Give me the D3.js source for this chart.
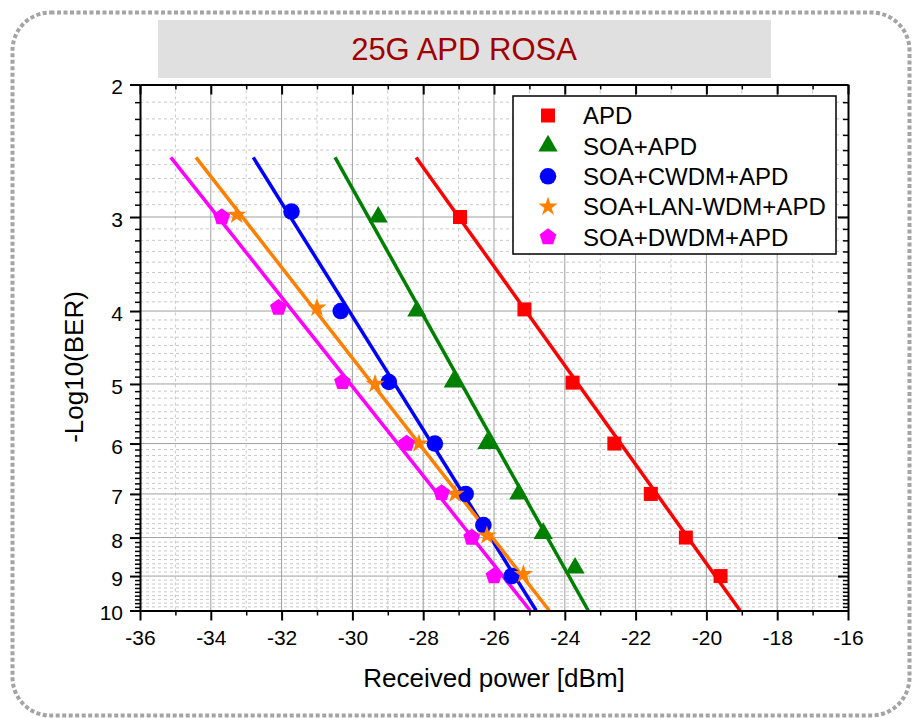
<!DOCTYPE html>
<html>
<head>
<meta charset="utf-8">
<script src="https://cdn.jsdelivr.net/npm/d3@7"></script>
<style>
  body { margin: 0; background: #fff; }
  text { font-family: "Liberation Sans", Arial, sans-serif; }
</style>
</head>
<body>
<script>
// Data
const seriesNames = ['APD', 'SOA+APD', 'SOA+CWDM+APD', 'SOA+LAN-WDM+APD', 'SOA+DWDM+APD'];
const seriesColors = ['#ff0000', '#008000', '#0000ff', '#ff8000', '#ff00ff'];
const seriesSymbols = ['square', 'triangle', 'circle', 'star', 'pentagon'];

const apdPower = [-26.96, -25.14, -23.78, -22.6, -21.57, -20.58, -19.6];
const apdBer = [3.0, 3.98, 4.98, 6.0, 7.0, 8.0, 9.0];
const soaPower = [-29.27, -28.18, -27.15, -26.2, -25.3, -24.61, -23.71];
const soaBer = [3.0, 4.0, 4.97, 6.0, 7.0, 7.9, 8.78];
const cwdmPower = [-31.72, -30.33, -28.97, -27.67, -26.8, -26.3, -25.5];
const cwdmBer = [2.95, 4.0, 4.97, 6.0, 7.0, 7.7, 9.0];
const lanPower = [-33.27, -31.0, -29.36, -28.12, -27.1, -26.2, -25.17];
const lanBer = [2.98, 3.96, 5.0, 6.0, 7.0, 7.95, 8.95];
const dwdmPower = [-33.69, -32.09, -30.28, -28.47, -27.48, -26.63, -26.0];
const dwdmBer = [3.0, 3.96, 4.97, 6.0, 6.98, 8.0, 9.0];

// Linear fits, power at the two ends of the fit range
const fitBer = [2.5, 10];
const apdFit = [-28.2, -19.05];
const soaFit = [-30.49, -23.34];
const cwdmFit = [-32.8, -24.81];
const lanFit = [-34.42, -24.44];
const dwdmFit = [-35.13, -24.98];

const powers = [apdPower, soaPower, cwdmPower, lanPower, dwdmPower];
const bers = [apdBer, soaBer, cwdmBer, lanBer, dwdmBer];
const fits = [apdFit, soaFit, cwdmFit, lanFit, dwdmFit];

const xTicks = d3.range(-36, -15, 2);
const xMinorTicks = d3.range(-35, -16, 2);
const yTicks = d3.range(2, 11);
const yMinorTicks = d3.range(2, 10).flatMap(n => d3.range(1, 9).map(k => n + k / 9));

// Dimensions
const width = 913;
const height = 718;
const plot = {left: 140, right: 848, top: 84.5, bottom: 610.5};

const svg = d3.select('body')
  .append('svg')
    .attr('width', width)
    .attr('height', height)

// Outer dotted frame
svg.append('rect')
  .attr('x', 12.5)
  .attr('y', 12.5)
  .attr('width', 897)
  .attr('height', 703)
  .attr('rx', 38)
  .attr('fill', 'none')
  .attr('stroke', '#a4a4a4')
  .attr('stroke-width', 4)
  .attr('stroke-dasharray', '4 2.5')

// Title
svg.append('rect')
  .attr('x', 158)
  .attr('y', 20)
  .attr('width', 613)
  .attr('height', 58)
  .attr('fill', '#e0e0e0')
svg.append('text')
  .attr('x', 464)
  .attr('y', 60)
  .attr('text-anchor', 'middle')
  .attr('font-size', 31)
  .attr('fill', '#a00000')
  .text('25G APD ROSA')

// Scales
const x = d3.scaleLinear().domain([-36, -16]).range([plot.left, plot.right]);
const y = d3.scaleLog().domain([2, 10]).range([plot.top, plot.bottom]);

// Grid
const grid = svg.append('g');
grid.selectAll('.vminor')
  .data(xMinorTicks)
  .join('line')
    .attr('x1', d => x(d)).attr('x2', d => x(d))
    .attr('y1', plot.top).attr('y2', plot.bottom)
    .attr('stroke', '#c8c8c8')
    .attr('stroke-dasharray', '3 3')
grid.selectAll('.hminor')
  .data(yMinorTicks)
  .join('line')
    .attr('x1', plot.left).attr('x2', plot.right)
    .attr('y1', d => y(d)).attr('y2', d => y(d))
    .attr('stroke', '#c8c8c8')
    .attr('stroke-dasharray', '3 3')
grid.selectAll('.vmajor')
  .data(xTicks.slice(1, -1))
  .join('line')
    .attr('x1', d => x(d)).attr('x2', d => x(d))
    .attr('y1', plot.top).attr('y2', plot.bottom)
    .attr('stroke', '#a0a0a0')
grid.selectAll('.hmajor')
  .data(yTicks.slice(1, -1))
  .join('line')
    .attr('x1', plot.left).attr('x2', plot.right)
    .attr('y1', d => y(d)).attr('y2', d => y(d))
    .attr('stroke', '#a0a0a0')

// Fit lines
const line = d3.line().x(d => x(d[0])).y(d => y(d[1]));
svg.append('g')
  .selectAll('path')
  .data(fits)
  .join('path')
    .attr('d', d => line(d.map((p, i) => [p, fitBer[i]])))
    .attr('fill', 'none')
    .attr('stroke', (d, i) => seriesColors[i])
    .attr('stroke-width', 3.5)

// Marker shapes
const pentagon = (r) => {
  const p = d3.path();
  for (let k = 0; k < 5; k++) {
    const a = -Math.PI / 2 + k * 2 * Math.PI / 5;
    if (k === 0) p.moveTo(r * Math.cos(a), r * Math.sin(a));
    else p.lineTo(r * Math.cos(a), r * Math.sin(a));
  }
  p.closePath();
  return p.toString();
}
const markerPath = (name) => {
  if (name === 'square') return d3.symbol(d3.symbolSquare, 196)();
  if (name === 'triangle') return d3.symbol(d3.symbolTriangle, 160)();
  if (name === 'circle') return d3.symbol(d3.symbolCircle, 216)();
  if (name === 'star') return d3.symbol(d3.symbolStar, 115)();
  return pentagon(8.8);
}

// Markers
const markers = svg.append('g');
powers.forEach((pw, s) => {
  markers.selectAll(`.m${s}`)
    .data(pw.map((p, i) => [p, bers[s][i]]))
    .join('path')
      .attr('d', markerPath(seriesSymbols[s]))
      .attr('transform', d => `translate(${x(d[0])}, ${y(d[1])})`)
      .attr('fill', seriesColors[s])
})

// Axes
const plainNumber = d => `${d}`;
const styleAxis = (g) => {
  g.select('.domain').attr('stroke-width', 2);
  g.selectAll('.tick line').attr('stroke-width', 2);
  g.selectAll('text').attr('font-size', 21).attr('font-family', '"Liberation Sans", Arial, sans-serif').attr('fill', '#000');
}
const styleMinor = (g) => {
  g.select('.domain').remove();
  g.selectAll('.tick line').attr('stroke-width', 1.5);
}
svg.append('g')
  .attr('transform', `translate(0, ${plot.bottom})`)
  .call(d3.axisBottom(x).tickValues(xTicks).tickSize(10).tickSizeOuter(0).tickPadding(10).tickFormat(plainNumber))
  .call(styleAxis)
svg.append('g')
  .attr('transform', `translate(0, ${plot.bottom})`)
  .call(d3.axisBottom(x).tickValues(xMinorTicks).tickSize(5).tickFormat(''))
  .call(styleMinor)
svg.append('g')
  .attr('transform', `translate(0, ${plot.top})`)
  .call(d3.axisTop(x).tickValues(xTicks).tickSize(-10).tickSizeOuter(0).tickFormat(''))
  .call(styleAxis)
svg.append('g')
  .attr('transform', `translate(0, ${plot.top})`)
  .call(d3.axisTop(x).tickValues(xMinorTicks).tickSize(-5).tickFormat(''))
  .call(styleMinor)
svg.append('g')
  .attr('transform', `translate(${plot.left}, 0)`)
  .call(d3.axisLeft(y).tickValues(yTicks).tickSize(10).tickSizeOuter(0).tickPadding(7).tickFormat(plainNumber))
  .call(styleAxis)
  .call(g => g.selectAll('text').attr('dy', '0.45em'))
svg.append('g')
  .attr('transform', `translate(${plot.left}, 0)`)
  .call(d3.axisLeft(y).tickValues(yMinorTicks).tickSize(5).tickFormat(''))
  .call(styleMinor)
svg.append('g')
  .attr('transform', `translate(${plot.right}, 0)`)
  .call(d3.axisRight(y).tickValues(yTicks).tickSize(-10).tickSizeOuter(0).tickFormat(''))
  .call(styleAxis)
svg.append('g')
  .attr('transform', `translate(${plot.right}, 0)`)
  .call(d3.axisRight(y).tickValues(yMinorTicks).tickSize(-5).tickFormat(''))
  .call(styleMinor)

// Axis titles
svg.append('text')
  .attr('x', 494)
  .attr('y', 687)
  .attr('text-anchor', 'middle')
  .attr('font-size', 26)
  .text('Received power [dBm]')
svg.append('text')
  .attr('transform', 'translate(83, 367) rotate(-90)')
  .attr('text-anchor', 'middle')
  .attr('font-size', 26)
  .text('-Log10(BER)')

// Legend
const legend = svg.append('g');
legend.append('rect')
  .attr('x', 513)
  .attr('y', 96)
  .attr('width', 323)
  .attr('height', 158)
  .attr('fill', '#fff')
  .attr('stroke', '#000')
  .attr('stroke-width', 1.5)
const rows = legend.selectAll('g')
  .data(seriesNames)
  .join('g')
    .attr('transform', (d, i) => `translate(548, ${115.5 + i * 30.4})`)
rows.append('path')
  .attr('d', (d, i) => markerPath(seriesSymbols[i]))
  .attr('fill', (d, i) => seriesColors[i])
rows.append('text')
  .attr('x', 35)
  .attr('dy', '0.36em')
  .attr('font-size', 24)
  .text(d => d)
</script>
</body>
</html>
